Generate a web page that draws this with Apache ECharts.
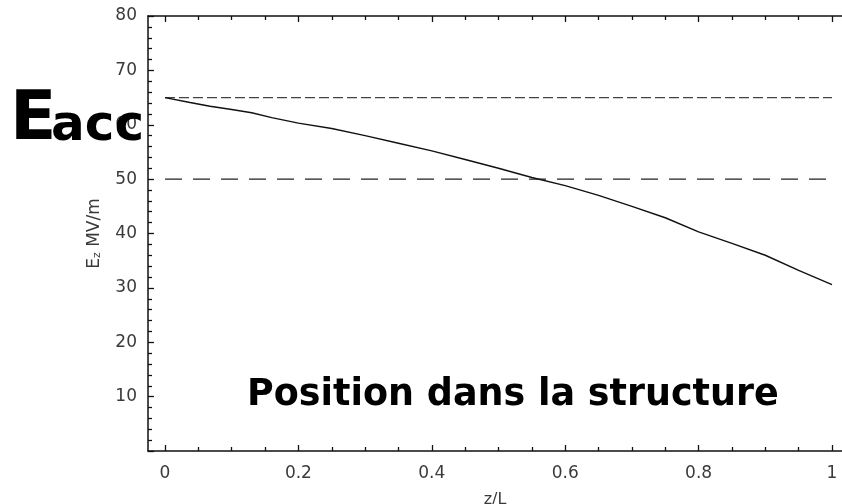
<!DOCTYPE html>
<html>
<head>
<meta charset="utf-8">
<script src="https://cdn.jsdelivr.net/npm/echarts@6/dist/echarts.min.js"></script>
<style>
html,body{margin:0;padding:0;background:#fff;}
#c{width:842px;height:504px;}
</style>
</head>
<body>
<div id="c"></div>
<script>
// z/L positions and Ez values (MV/m)
const zPos = [0, 0.0375, 0.0675, 0.1, 0.13, 0.16, 0.2, 0.25, 0.3, 0.35, 0.4, 0.45, 0.5, 0.55, 0.6, 0.65, 0.7, 0.75, 0.8, 0.85, 0.9, 0.95, 1.0];
const ezValues = [65, 64.1, 63.4, 62.8, 62.2, 61.3, 60.3, 59.3, 58.0, 56.6, 55.2, 53.6, 52.0, 50.3, 48.8, 47.0, 45.0, 42.9, 40.3, 38.2, 36.0, 33.2, 30.6];
// reference levels
const maxLevelX = [0, 1];
const maxLevelY = [65, 65];
const accLevelX = [0, 1];
const accLevelY = [50, 50];
// tick labels
const xMajorTicks = [0, 0.2, 0.4, 0.6, 0.8, 1];
const xMinorTicks = [0.05, 0.1, 0.15, 0.25, 0.3, 0.35, 0.45, 0.5, 0.55, 0.65, 0.7, 0.75, 0.85, 0.9, 0.95];
const xLabels = ['0', '0.2', '0.4', '0.6', '0.8', '1'];

const pairs = (xs, ys) => xs.map((x, i) => [x, ys[i]]);

const chart = echarts.init(document.getElementById('c'), null, {renderer: 'canvas'});
const axisCol = '#111';
const labelCol = '#3a3a3a';
const xMin = -0.0255, xMax = 1.015;
function xAx(pos, ticks, len, showLine, labels) {
  return {
    type: 'value', position: pos, min: xMin, max: xMax,
    axisLine: {show: showLine, onZero: false, lineStyle: {color: axisCol, width: 1.5}},
    axisTick: {show: true, inside: true, length: len, customValues: ticks, lineStyle: {color: axisCol, width: 1.3}},
    axisLabel: labels ? {
      show: true, customValues: xMajorTicks, margin: 14,
      color: labelCol, fontSize: 17, fontFamily: 'DejaVu Sans',
      formatter: v => xLabels[xMajorTicks.findIndex(t => Math.abs(t - v) < 1e-6)] ?? ''
    } : {show: false},
    splitLine: {show: false}
  };
}
const xAxes = [
  xAx('bottom', xMajorTicks, 6, true, true),
  xAx('bottom', xMinorTicks, 4, false, false),
  xAx('top', xMajorTicks, 6, true, false),
  xAx('top', xMinorTicks, 4, false, false)
];
xAxes[0].name = 'z/L';
xAxes[0].nameLocation = 'middle';
xAxes[0].nameGap = 41;
xAxes[0].nameMoveOverlap = false;
xAxes[0].nameTextStyle = {color: labelCol, fontSize: 16, fontFamily: 'DejaVu Sans', verticalAlign: 'top'};

chart.setOption({
  backgroundColor: '#fff',
  animation: false,
  grid: {left: 148, right: 0, top: 16, bottom: 53, outerBoundsMode: 'none', containLabel: false},
  xAxis: xAxes,
  yAxis: {
    type: 'value', min: 0, max: 80, interval: 10,
    name: '{e|E}{s|z}{e| MV/m}', nameLocation: 'middle', nameGap: 45, nameRotate: 90, nameMoveOverlap: false,
    nameTextStyle: {color: labelCol, fontFamily: 'DejaVu Sans', rich: {
      e: {fontSize: 17, color: labelCol, fontFamily: 'DejaVu Sans'},
      s: {fontSize: 11, color: labelCol, fontFamily: 'DejaVu Sans', verticalAlign: 'bottom', padding: [6, 0, 0, 0]}
    }},
    axisLine: {show: true, onZero: false, lineStyle: {color: axisCol, width: 1.5}},
    axisTick: {show: true, inside: true, length: 6, lineStyle: {color: axisCol, width: 1.3}},
    minorTick: {show: true, splitNumber: 5, length: 4, lineStyle: {color: axisCol, width: 1.3}},
    axisLabel: {margin: 11, color: labelCol, fontSize: 17, fontFamily: 'DejaVu Sans', formatter: v => v === 0 ? '' : String(v)},
    splitLine: {show: false}, minorSplitLine: {show: false}
  },
  series: [
    {type: 'line', data: pairs(maxLevelX, maxLevelY), symbol: 'none', silent: true,
     lineStyle: {color: '#444', width: 1.3, type: [10, 4]}},
    {type: 'line', data: pairs(accLevelX, accLevelY), symbol: 'none', silent: true,
     lineStyle: {color: '#222', width: 1.3, type: [17, 11]}},
    {type: 'line', data: pairs(zPos, ezValues), symbol: 'none', smooth: false,
     lineStyle: {color: '#111', width: 1.4}}
  ],
  graphic: [
    {type: 'text', silent: true, z: 100,
     style: {x: 10, y: 121, text: 'E', font: 'bold 68px "DejaVu Sans"', fill: '#000', textVerticalAlign: 'middle'}},
    {type: 'text', silent: true, z: 100,
     style: {x: 51, y: 127, text: 'acc', font: 'bold 50px "DejaVu Sans"', fill: '#000', textVerticalAlign: 'middle'}},
    {type: 'text', silent: true, z: 100,
     style: {x: 247, y: 396, text: 'Position dans la structure', font: 'bold 36.5px "DejaVu Sans"', fill: '#000', textVerticalAlign: 'middle'}}
  ]
});
</script>
</body>
</html>
